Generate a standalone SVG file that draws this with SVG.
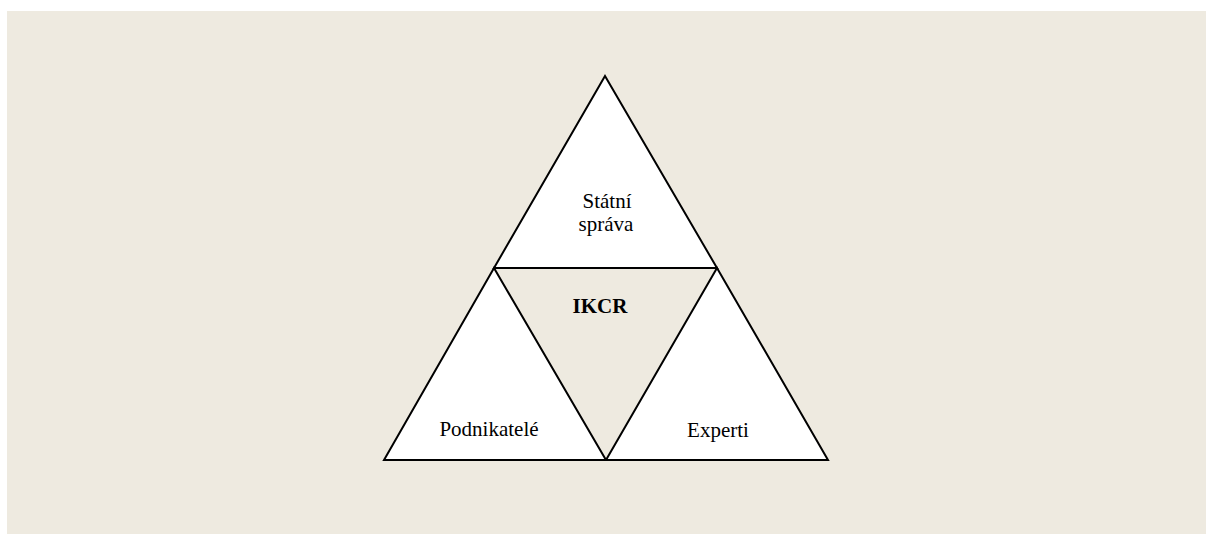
<svg xmlns="http://www.w3.org/2000/svg" width="1206" height="534" viewBox="0 0 1206 534">
<style>
.tri{fill:#ffffff;stroke:#000000;stroke-width:2;stroke-linejoin:miter}
.lbl{font-family:"Liberation Serif","Times New Roman",serif;font-size:21px;fill:#000000;text-anchor:middle}
.bold{font-weight:bold}
</style>
<rect x="7" y="11" width="1199" height="523" fill="#EEEAE0"/>
<g id="center">
<polygon points="494,268 717,268 606,460" fill="#EEEAE0" stroke="none"/>
<text class="lbl bold" x="600" y="313">IKCR</text>
</g>
<g id="statni-sprava">
<polygon class="tri" points="605,76 717,268 494,268"/>
<text class="lbl" x="607" y="208">Státní</text>
<text class="lbl" x="606" y="231">správa</text>
</g>
<g id="podnikatele">
<polygon class="tri" points="494,268 606,460 384,460"/>
<text class="lbl" x="489" y="436">Podnikatelé</text>
</g>
<g id="experti">
<polygon class="tri" points="717,268 828,460 606,460"/>
<text class="lbl" x="718" y="437">Experti</text>
</g>
<g id="connectors"></g>
</svg>
